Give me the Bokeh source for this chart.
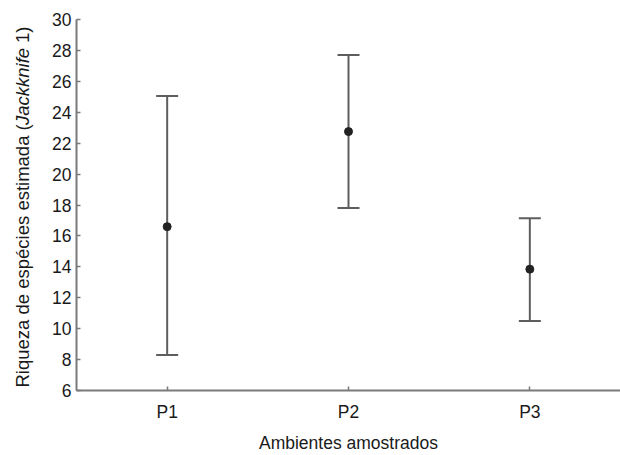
from bokeh.plotting import figure
from bokeh.models import ColumnDataSource, Whisker, TeeHead, FixedTicker, Range1d, FactorRange
from bokeh.core.properties import value
from bokeh.embed import file_html
from bokeh.resources import INLINE

categories = ["P1", "P2", "P3"]
means = [16.6, 22.75, 13.85]
upper = [25.05, 27.7, 17.15]
lower = [8.3, 17.8, 10.5]
y_ticks = [6, 8, 10, 12, 14, 16, 18, 20, 22, 24, 26, 28, 30]
y_title_parts = ["Riqueza de espécies estimada (", "Jackknife", "1)"]
y_title_styles = ["normal", "italic", "normal"]
y_title_em = [14.228, 4.168 + 0.278, 0.889]   # approximate advance widths in em

FONT = "Liberation Sans"
AXIS_COL = "#7a7a7a"
BAR_COL = "#5e5e5e"
TXT_COL = "#1a1a1a"

W, H = 620, 455
BL, BT, BB = 76, 19, 64

src = ColumnDataSource(dict(x=categories, mean=means, upper=upper, lower=lower))

p = figure(width=W, height=H, x_range=FactorRange(*categories),
           y_range=Range1d(y_ticks[0], y_ticks[-1]), output_backend="svg", toolbar_location=None,
           min_border_left=BL, min_border_right=0, min_border_top=BT, min_border_bottom=BB)
p.outline_line_color = None
p.grid.visible = False
p.background_fill_color = "white"
p.border_fill_color = "white"

for ax in (p.xaxis[0], p.yaxis[0]):
    ax.axis_line_color = AXIS_COL
    ax.axis_line_width = 2
    ax.major_tick_line_color = AXIS_COL
    ax.major_tick_line_width = 1.5
    ax.major_tick_in = 4
    ax.major_tick_out = 0
    ax.minor_tick_line_color = None
    ax.major_label_text_font = FONT
    ax.major_label_text_font_size = "17.5px"
    ax.major_label_text_color = TXT_COL

p.yaxis.ticker = FixedTicker(ticks=y_ticks)
p.yaxis.major_label_standoff = 5
p.yaxis.axis_label = None

p.xaxis.major_label_standoff = 11
p.xaxis.axis_label = "Ambientes amostrados"
p.xaxis.axis_label_text_font = FONT
p.xaxis.axis_label_text_font_size = "17.5px"
p.xaxis.axis_label_text_font_style = "normal"
p.xaxis.axis_label_text_color = TXT_COL
p.xaxis.axis_label_standoff = 8

w = Whisker(base="x", upper="upper", lower="lower", source=src, dimension="height",
            line_color=BAR_COL, line_width=2,
            upper_head=TeeHead(size=22, line_color=BAR_COL, line_width=2),
            lower_head=TeeHead(size=22, line_color=BAR_COL, line_width=2))
p.add_layout(w)
p.scatter(x="x", y="mean", source=src, size=8, color="#222222")

# y axis title with italic part: rotated text glyphs drawn outside the frame
frame_w = W - BL
frame_h = H - BT - BB
px_x = frame_w / len(categories)
px_y = frame_h / (y_ticks[-1] - y_ticks[0])
fs = 18.5
lx = (22 - BL) / px_x
ys = []
pos = y_ticks[0] + 3.0 / px_y
for em in y_title_em:
    ys.append(pos)
    pos += em * fs / px_y
tsrc = ColumnDataSource(dict(x=[lx] * 3, y=ys, text=y_title_parts, style=y_title_styles))
r = p.text(x="x", y="y", text="text", source=tsrc, angle=1.5707963,
           text_font=value(FONT), text_font_size=f"{fs}px", text_font_style="style",
           text_color=TXT_COL, text_align="left", text_baseline="alphabetic",
           level="overlay")

open("out.html", "w").write(file_html(p, INLINE))
